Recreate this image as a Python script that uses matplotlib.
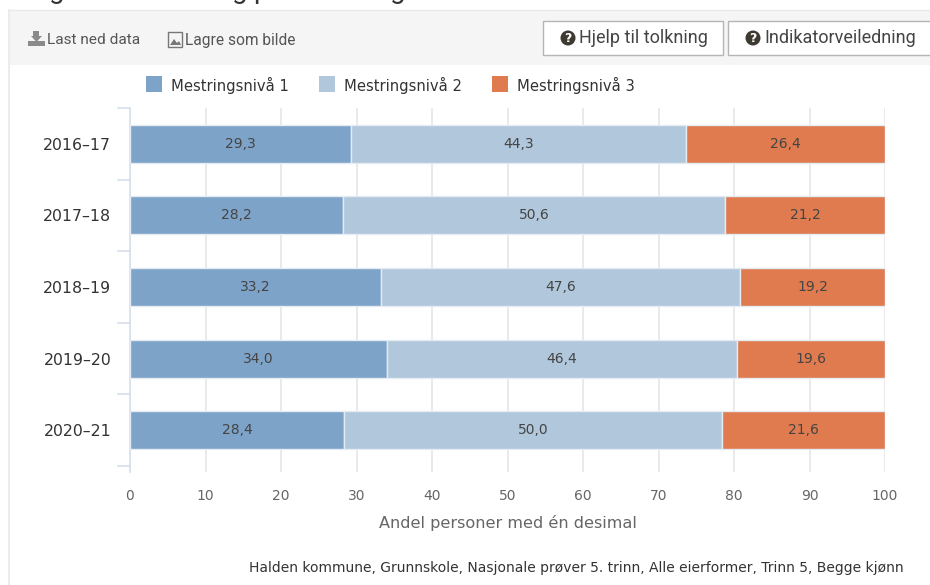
import matplotlib
matplotlib.use('Agg')
import matplotlib.pyplot as plt
from matplotlib.patches import Rectangle, Circle, Polygon

years = ['2016-17', '2017-18', '2018-19', '2019-20', '2020-21']
labels = ['Mestringsnivå 1', 'Mestringsnivå 2', 'Mestringsnivå 3']
level1 = [29.3, 28.2, 33.2, 34.0, 28.4]
level2 = [44.3, 50.6, 47.6, 46.4, 50.0]
level3 = [26.4, 21.2, 19.2, 19.6, 21.6]
colors = ['#7ea3c8', '#b0c7dc', '#e07b4f']
xticks = [0, 10, 20, 30, 40, 50, 60, 70, 80, 90, 100]
W, H = 930, 585

fig = plt.figure(figsize=(W / 100, H / 100), dpi=100)


def px(x0, y0, x1, y1):
    # pixel box (top-left origin) to figure fractions
    return [x0 / W, 1 - y1 / H, (x1 - x0) / W, (y1 - y0) / H]


# page layer, pixel coordinates
bg = fig.add_axes([0, 0, 1, 1])
bg.set_xlim(0, W)
bg.set_ylim(H, 0)
bg.axis('off')
bg.add_patch(Rectangle((9, 10), W, 55, fc='#f5f5f5', ec='none'))
bg.plot([9, W], [10, 10], color='#e8e8e8', lw=1)
bg.plot([9, 9], [10, H], color='#ececec', lw=1.5)

# bottom of the cropped page title, only the descenders are on the picture
for x0, ch in [(49, 'g'), (232, 'g'), (253, 'p'), (390, 'g')]:
    bg.text(x0, -2.5, ch, family='Roboto', fontsize=20, color='#333333', va='baseline')

# toolbar
bg.add_patch(Polygon([[28, 41], [28, 46], [45, 46], [45, 41]], fc='#8a8a8a', ec='none'))
bg.add_patch(Polygon([[33, 31], [39, 31], [39, 36], [42, 36], [36.5, 42], [31, 36], [33, 36]], fc='#8a8a8a', ec='none'))
bg.text(47, 40, 'Last ned data', family='Roboto', fontsize=11.1, color='#555555', va='center')
bg.add_patch(Rectangle((168, 32), 14, 15, fc='none', ec='#777777', lw=1))
bg.add_patch(Polygon([[170, 45], [174, 39], [177, 43], [179, 41], [181, 45]], fc='#777777', ec='none'))
bg.text(185, 40, 'Lagre som bilde', family='Roboto', fontsize=11.2, color='#555555', va='center')
for x0, x1, txt, tx in [(543, 723, 'Hjelp til tolkning', 579), (728, 935, 'Indikatorveiledning', 764)]:
    bg.add_patch(Rectangle((x0, 21), x1 - x0, 34, fc='white', ec='#b5b5b5', lw=1))
    bg.add_patch(Circle((tx - 11, 38), 7.5, fc='#3d3a32', ec='none'))
    bg.text(tx - 11, 38, '?', color='white', fontsize=9, fontweight='bold', ha='center', va='center')
    bg.text(tx, 38, txt, family='Roboto', fontsize=13, color='#444444', va='center')

# legend
for x0, lab, col in zip([146, 319, 492], labels, colors):
    bg.add_patch(Rectangle((x0, 76), 16, 16, fc=col, ec='none'))
    bg.text(x0 + 25, 85, lab, fontsize=10.65, color='#333333', va='center')

# chart
ax = fig.add_axes(px(130, 108, 885, 472))
ax.patch.set_alpha(0)
ylist = list(range(len(years)))
left = [0] * len(years)
for vals, col in zip([level1, level2, level3], colors):
    ax.barh(ylist, vals, left=left, height=0.53, color=col, edgecolor='#e4ebf2', linewidth=1, zorder=3)
    for y, v, l in zip(ylist, vals, left):
        ax.text(l + v / 2, y, f'{v:.1f}'.replace('.', ','), ha='center', va='center',
                fontsize=10, color='#444444', zorder=4)
    left = [l + v for l, v in zip(left, vals)]

ax.set_xlim(0, 100)
ax.set_ylim(4.5 + 6 / 71.6, -0.5)
ax.set_xticks(xticks)
ax.xaxis.grid(True, color='#e6e6e6', lw=1.2, zorder=0)
ax.tick_params(axis='x', length=0, pad=12, labelsize=10, labelcolor='#666666')
ax.set_yticks(ylist)
ax.set_yticklabels([y.replace('-', '\u2013') for y in years], fontsize=11.3, color='#333333')
ax.tick_params(axis='y', length=0, pad=13.5)
for s in ['top', 'right', 'bottom']:
    ax.spines[s].set_visible(False)
ax.spines['left'].set_color('#d8deee')
ax.spines['left'].set_linewidth(1.2)
# category boundary ticks
for y in [v - 0.5 for v in ylist] + [4.5]:
    ax.plot([-1.65, 0], [y, y], color='#d8deee', lw=1.2, clip_on=False, zorder=2)
ax.set_xlabel('Andel personer med én desimal', fontsize=11.65, color='#666666', labelpad=9)

bg.text(904, 568, 'Halden kommune, Grunnskole, Nasjonale prøver 5. trinn, Alle eierformer, Trinn 5, Begge kjønn',
        fontsize=10, color='#333333', ha='right', va='center')

fig.savefig('out.png', dpi=100)
